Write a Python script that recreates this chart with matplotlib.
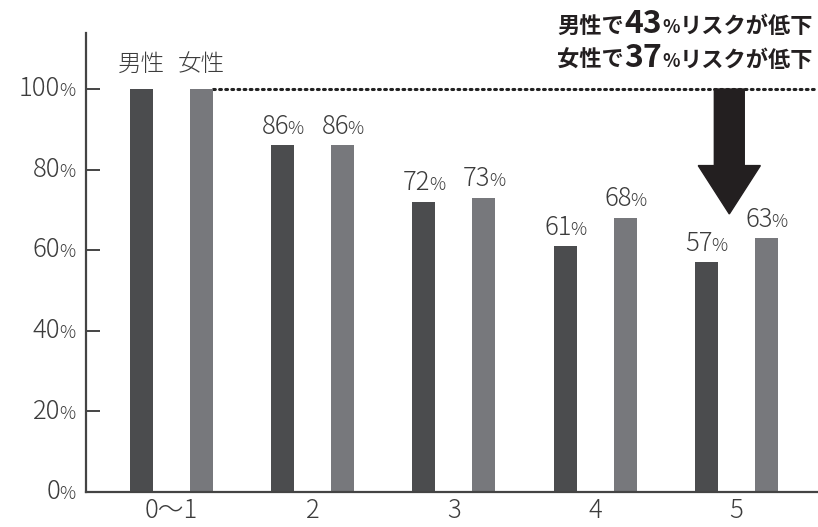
import matplotlib
matplotlib.use("Agg")
import matplotlib.pyplot as plt
from matplotlib.offsetbox import TextArea, HPacker, AnnotationBbox
from matplotlib.patches import FancyArrow
import numpy as np

plt.rcParams['font.family'] = ['Noto Sans CJK JP', 'DejaVu Sans']

categories = ['0〜1', '2', '3', '4', '5']
male = [100, 86, 72, 61, 57]
female = [100, 86, 73, 68, 63]
yticks = [0, 20, 40, 60, 80, 100]
series_names = ['男性', '女性']
note_lines = [('男性で', '43', 'リスクが低下'), ('女性で', '37', 'リスクが低下')]

C_MALE = '#4b4c4e'
C_FEMALE = '#77787c'
TXT = '#3c3c3c'
LW = 'light'

fig = plt.figure(figsize=(8.18, 5.27), dpi=100)
ax = fig.add_axes([86/818, 35/527, (817-86)/818, (492-33)/527])

x = np.arange(len(categories))
off = 0.2125
w = 0.163
ax.bar(x - off, male, width=w, color=C_MALE, zorder=2)
ax.bar(x + off, female, width=w, color=C_FEMALE, zorder=2)

ax.set_xlim(-0.6055, 4.571)
ax.set_ylim(0, 113.9)

for s in ['top', 'right']:
    ax.spines[s].set_visible(False)
for s in ['left', 'bottom']:
    ax.spines[s].set_color('#444444')
    ax.spines[s].set_linewidth(1.6)

ax.set_yticks(yticks)
ax.set_yticklabels([])
ax.tick_params(axis='y', direction='in', length=10, width=1.4, color='#444444')
ax.set_xticks(x)
ax.set_xticklabels(categories, fontsize=18.5, color=TXT, fontweight=LW)
ax.tick_params(axis='x', length=0, pad=4)


def pct_box(num, big, small, color=TXT, weight=LW):
    a = TextArea(num, textprops=dict(fontsize=big, color=color, fontweight=weight))
    b = TextArea('%', textprops=dict(fontsize=small, color=color, fontweight=weight))
    return HPacker(children=[a, b], align='baseline', pad=0, sep=-1)


# y tick labels
for v in yticks:
    ab = AnnotationBbox(pct_box(str(v), 18.5, 13), (0, v),
                        xycoords=ax.get_yaxis_transform(),
                        xybox=(-8, 0), boxcoords='offset points',
                        box_alignment=(1, 0.5), frameon=False,
                        annotation_clip=False)
    ax.add_artist(ab)

# bar value labels
for i in range(1, len(categories)):
    for xv, val in ((x[i] - off, male[i]), (x[i] + off, female[i])):
        ab = AnnotationBbox(pct_box(str(val), 18.5, 13), (xv, val),
                            xybox=(0, 4), boxcoords='offset points',
                            box_alignment=(0.5, 0), frameon=False)
        ax.add_artist(ab)

# series names above first group
ax.text(x[0] - off, male[0] + 3, series_names[0], ha='center', va='bottom',
        fontsize=17, color=TXT, fontweight=LW)
ax.text(x[0] + off, female[0] + 3, series_names[1], ha='center', va='bottom',
        fontsize=17, color=TXT, fontweight=LW)

# dotted reference line
ax.plot([x[0] + off + w/2, 4.571], [100, 100], linestyle=(0, (0.6, 1.4)),
        color='#222222', linewidth=2.2, dash_capstyle='round', zorder=1,
        clip_on=False)

# big arrow
ax_x = x[4] - 0.05
arr = FancyArrow(ax_x, 100, 0, -(100 - 69), width=0.212, head_width=0.44,
                 head_length=12, length_includes_head=True,
                 color='#231f20', zorder=3)
ax.add_patch(arr)

# note text top right
for k, (pre, num, post) in enumerate(note_lines):
    parts = [TextArea(pre, textprops=dict(fontsize=16, color='#231f20', fontweight='bold')),
             TextArea(num, textprops=dict(fontsize=23, color='#231f20', fontweight='bold')),
             TextArea('%', textprops=dict(fontsize=13, color='#231f20', fontweight='bold')),
             TextArea(post, textprops=dict(fontsize=16, color='#231f20', fontweight='bold'))]
    hp = HPacker(children=parts, align='baseline', pad=0, sep=0)
    ab = AnnotationBbox(hp, (813/818, 1 - (40 + 34*k)/527), xycoords='figure fraction',
                        box_alignment=(1, 0), frameon=False, annotation_clip=False)
    fig.add_artist(ab)

fig.savefig('out.png', dpi=100)
